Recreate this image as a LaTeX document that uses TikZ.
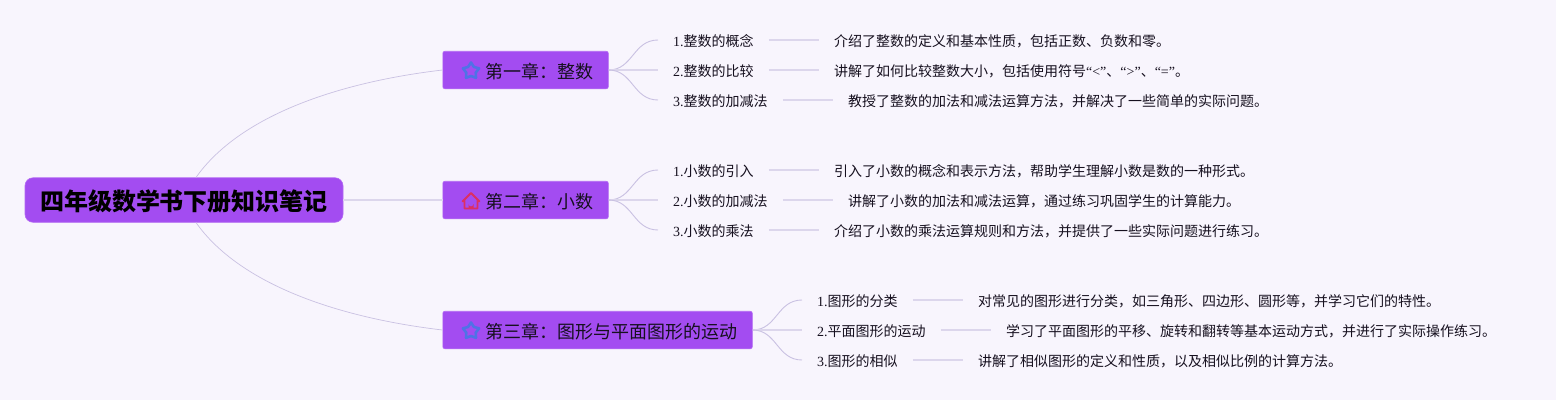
\documentclass[tikz,border=0pt]{standalone}
\usepackage{fontspec}
\setmainfont{Noto Sans CJK SC}
\newfontfamily\latinfont{Liberation Serif}
\newcommand{\lat}[1]{{\latinfont #1}}
\usetikzlibrary{positioning,shapes.geometric}
\definecolor{pagebg}{HTML}{F8F5FD}
\definecolor{boxfill}{HTML}{A34CF1}
\definecolor{boxline}{HTML}{B36AF3}
\definecolor{branchline}{HTML}{C9C1E2}
\definecolor{stemline}{HTML}{DCD6EC}
\definecolor{inktext}{HTML}{16101F}
\definecolor{stariconline}{HTML}{4F72E6}
\definecolor{houseiconline}{HTML}{DC2F62}
\tikzset{
  rootbox/.style={draw=boxline, fill=boxfill, rounded corners=8pt, line width=0.6pt,
    minimum width=318pt, minimum height=44.5pt, inner sep=0pt, text=black,
    text height=23pt, text depth=3pt,
    font=\fontsize{24}{24}\selectfont\bfseries},
  chapterbox/.style={draw=boxline, fill=boxfill, rounded corners=2pt, line width=0.6pt,
    minimum height=37.5pt, inner xsep=15pt, inner ysep=0pt, text=inktext,
    text height=19pt, text depth=2pt,
    font=\fontsize{18}{18}\selectfont},
  leafnode/.style={anchor=west, inner xsep=15pt, inner ysep=0pt, text=inktext,
    text height=15pt, text depth=2pt, font=\fontsize{14}{14}\selectfont},
  infonode/.style={leafnode, right=50pt of #1},
  rootlink/.style={draw=branchline, line width=0.7pt},
  branchlink/.style={draw=branchline, line width=0.9pt},
  stemlink/.style={draw=stemline, line width=1.5pt},
  staricon/.style={draw=stariconline, star, star points=5, star point ratio=1.7, minimum size=17pt,
    inner sep=0pt, line width=2.6pt, line join=round},
}
\begin{document}
\begin{tikzpicture}[x=1pt,y=-1pt]
\useasboundingbox[fill=pagebg] (0,0) rectangle (1556,400);

\node[rootbox] (root) at (184,200) {四年级数学书下册知识笔记};

\node[chapterbox, anchor=west] (chapone) at (442.5,70) {\hspace*{27.5pt}第一章：整数};
\node[chapterbox, anchor=west] (chaptwo) at (442.5,200) {\hspace*{27.5pt}第二章：小数};
\node[chapterbox, anchor=west] (chapthree) at (442.5,330) {\hspace*{27.5pt}第三章：图形与平面图形的运动};

\node[staricon] (starone) at ([xshift=28.5pt,yshift=-1pt]chapone.west) {};
\node[staricon] (starthree) at ([xshift=28.5pt,yshift=-1pt]chapthree.west) {};
\draw[draw=houseiconline, line width=1.9pt, line join=round, line cap=round]
  (462.5,201.5) -- (471,193) -- (479.5,201.5) (464.5,199.5) -- (464.5,208.5) -- (477.5,208.5) -- (477.5,199.5);
\fill[houseiconline] (468.5,208.5) -- (468.5,204) arc (180:0:2.5) -- (473.5,208.5) -- cycle;

\node[leafnode] (intconcept) at (658,40) {\lat{1.}整数的概念};
\node[leafnode] (intcompare) at (658,70) {\lat{2.}整数的比较};
\node[leafnode] (intadd) at (658,100) {\lat{3.}整数的加减法};
\node[leafnode] (decintro) at (658,170) {\lat{1.}小数的引入};
\node[leafnode] (decadd) at (658,200) {\lat{2.}小数的加减法};
\node[leafnode] (decmul) at (658,230) {\lat{3.}小数的乘法};
\node[leafnode] (figclass) at (802,300) {\lat{1.}图形的分类};
\node[leafnode] (figmove) at (802,330) {\lat{2.}平面图形的运动};
\node[leafnode] (figsimilar) at (802,360) {\lat{3.}图形的相似};

\node[infonode=intconcept] (intconceptinfo) {介绍了整数的定义和基本性质，包括正数、负数和零。};
\node[infonode=intcompare] (intcompareinfo) {讲解了如何比较整数大小，包括使用符号\lat{“<”}、\lat{“>”}、\lat{“=”}。};
\node[infonode=intadd] (intaddinfo) {教授了整数的加法和减法运算方法，并解决了一些简单的实际问题。};
\node[infonode=decintro] (decintroinfo) {引入了小数的概念和表示方法，帮助学生理解小数是数的一种形式。};
\node[infonode=decadd] (decaddinfo) {讲解了小数的加法和减法运算，通过练习巩固学生的计算能力。};
\node[infonode=decmul] (decmulinfo) {介绍了小数的乘法运算规则和方法，并提供了一些实际问题进行练习。};
\node[infonode=figclass] (figclassinfo) {对常见的图形进行分类，如三角形、四边形、圆形等，并学习它们的特性。};
\node[infonode=figmove] (figmoveinfo) {学习了平面图形的平移、旋转和翻转等基本运动方式，并进行了实际操作练习。};
\node[infonode=figsimilar] (figsimilarinfo) {讲解了相似图形的定义和性质，以及相似比例的计算方法。};

\draw[rootlink] ([xshift=12pt]root.north) .. controls (240,115) and (340,82) .. (chapone.west);
\draw[stemlink] (root.east) -- (chaptwo.west);
\draw[rootlink] ([xshift=12pt]root.south) .. controls (240,285) and (340,318) .. (chapthree.west);

\draw[branchlink] (chapone.east) .. controls (633,70) and (633,40) .. (intconcept.west);
\draw[stemlink] (chapone.east) -- (intcompare.west);
\draw[branchlink] (chapone.east) .. controls (633,70) and (633,100) .. (intadd.west);
\draw[branchlink] (chaptwo.east) .. controls (633,200) and (633,170) .. (decintro.west);
\draw[stemlink] (chaptwo.east) -- (decadd.west);
\draw[branchlink] (chaptwo.east) .. controls (633,200) and (633,230) .. (decmul.west);
\draw[branchlink] (chapthree.east) .. controls (777,330) and (777,300) .. (figclass.west);
\draw[stemlink] (chapthree.east) -- (figmove.west);
\draw[branchlink] (chapthree.east) .. controls (777,330) and (777,360) .. (figsimilar.west);

\draw[stemlink] (intconcept) -- (intconceptinfo);
\draw[stemlink] (intcompare) -- (intcompareinfo);
\draw[stemlink] (intadd) -- (intaddinfo);
\draw[stemlink] (decintro) -- (decintroinfo);
\draw[stemlink] (decadd) -- (decaddinfo);
\draw[stemlink] (decmul) -- (decmulinfo);
\draw[stemlink] (figclass) -- (figclassinfo);
\draw[stemlink] (figmove) -- (figmoveinfo);
\draw[stemlink] (figsimilar) -- (figsimilarinfo);
\end{tikzpicture}
\end{document}
